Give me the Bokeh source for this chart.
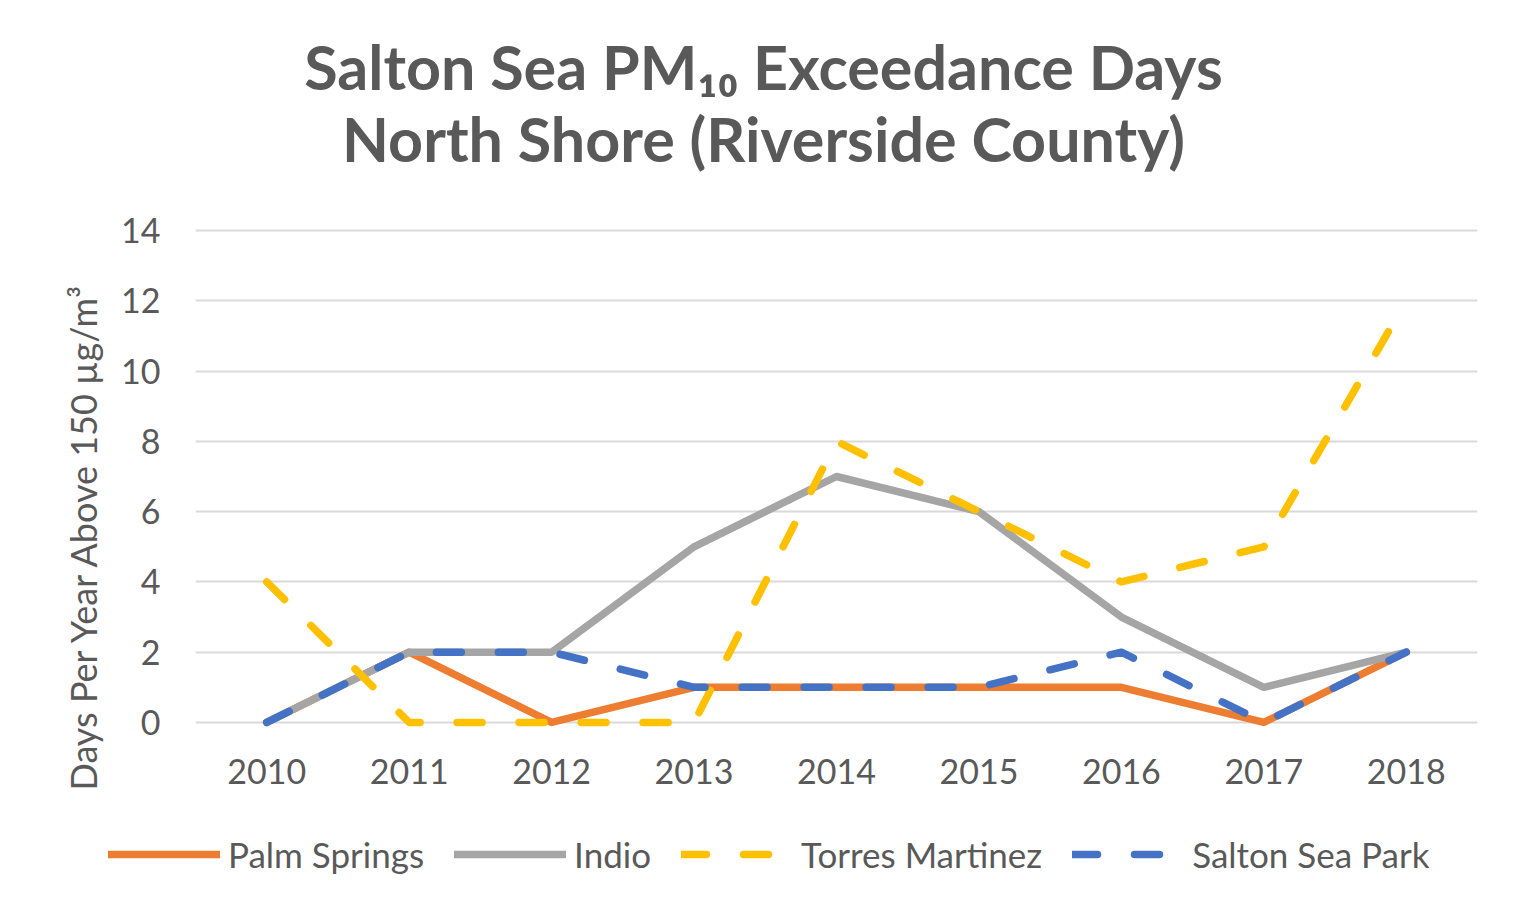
from bokeh.plotting import figure
from bokeh.layouts import column
from bokeh.models import Range1d, Legend, LegendItem, Title, FixedTicker, Label
from bokeh.embed import file_html
from bokeh.resources import INLINE

years = [2010, 2011, 2012, 2013, 2014, 2015, 2016, 2017, 2018]
palm_springs = [0, 2, 0, 1, 1, 1, 1, 0, 2]
indio = [0, 2, 2, 5, 7, 6, 3, 1, 2]
torres_martinez = [4, 0, 0, 0, 8, 6, 4, 5, 12]
salton_sea_park = [0, 2, 2, 1, 1, 1, 2, 0, 2]
y_ticks = [0, 2, 4, 6, 8, 10, 12, 14]
series_names = ["Palm Springs", "Indio", "Torres Martinez", "Salton Sea Park"]
title_lines = ["Salton Sea PM\u2081\u2080 Exceedance Days", "North Shore (Riverside County)"]
y_label = "Days Per Year Above 150 \u00b5g/m\u00b3"

TXT = "#595959"
FONT = "Lato"
COLORS = ["#ED7D31", "#A5A5A5", "#FFC000", "#4472C4"]
DASHES = ["solid", "solid", "25 37", "25 37"]
W = 7.5
series = [palm_springs, indio, torres_martinez, salton_sea_park]


def bare(width, height):
    f = figure(width=width, height=height, output_backend="svg", toolbar_location=None,
               x_range=Range1d(0, 1), y_range=Range1d(0, 1),
               x_axis_type=None, y_axis_type=None, min_border=0)
    f.title.visible = False
    f.outline_line_color = None
    f.xgrid.visible = False
    f.ygrid.visible = False
    f.background_fill_color = "white"
    f.border_fill_color = "white"
    return f


tf = bare(1516, 200)
lf = bare(1516, 114)
free = True
try:
    tf.frame_align = False
    lf.frame_align = False
except Exception:
    free = False
shift = 0 if free else 195

# ---- title block ----
for txt, yb in zip(title_lines, [134, 62]):
    tf.add_layout(Label(x=763 - shift, y=yb, x_units="screen", y_units="screen", text=txt,
                        text_align="center", text_baseline="alphabetic", text_font=FONT,
                        text_font_style="bold", text_font_size="61px", text_color=TXT))

# ---- main chart ----
p = figure(width=1516, height=600, output_backend="svg", toolbar_location=None,
           x_range=Range1d(2009.5, 2018.5), y_range=Range1d(-0.4, 14.4),
           min_border_left=195, min_border_right=39, min_border_top=16,
           min_border_bottom=64)
p.title.visible = False
p.outline_line_color = None
p.background_fill_color = "white"
p.border_fill_color = "white"
p.xgrid.grid_line_color = None
p.ygrid.grid_line_color = "#D9D9D9"
p.ygrid.grid_line_width = 2

for ax in (p.xaxis, p.yaxis):
    ax.axis_line_color = None
    ax.major_tick_line_color = None
    ax.minor_tick_line_color = None
    ax.major_label_text_color = TXT
    ax.major_label_text_font = FONT
    ax.major_label_text_font_size = "34px"
p.xaxis.ticker = FixedTicker(ticks=years)
p.yaxis.ticker = FixedTicker(ticks=y_ticks)
p.yaxis.major_label_standoff = 29
p.xaxis.major_label_standoff = 16

for vals, c, d in zip(series, COLORS, DASHES):
    p.line(years, vals, line_color=c, line_width=W, line_cap="round", line_join="round",
           line_dash=d)

yl = Title(text=y_label, align="left", offset=-54, standoff=27,
           text_font=FONT, text_font_style="normal", text_font_size="36px", text_color=TXT)
p.add_layout(yl, "left")

# ---- legend block (same series, drawn outside this strip's ranges so only the legend shows) ----
items = []
for name, vals, c, d in zip(series_names, series, COLORS, DASHES):
    r = lf.line(years, vals, line_color=c, line_width=W, line_cap="round", line_dash=d)
    items.append(LegendItem(label=name, renderers=[r]))
legend = Legend(items=items, orientation="horizontal",
                location=(108, 39) if free else (0, 39),
                glyph_width=112 if free else 100, label_standoff=8,
                spacing=30 if free else 22, padding=0, margin=0,
                border_line_color=None, background_fill_alpha=0,
                label_text_font=FONT, label_text_font_size="35px", label_text_color=TXT)
lf.add_layout(legend, "center")

layout = column(tf, p, lf, spacing=0)
open("out.html", "w").write(file_html(layout, INLINE))
